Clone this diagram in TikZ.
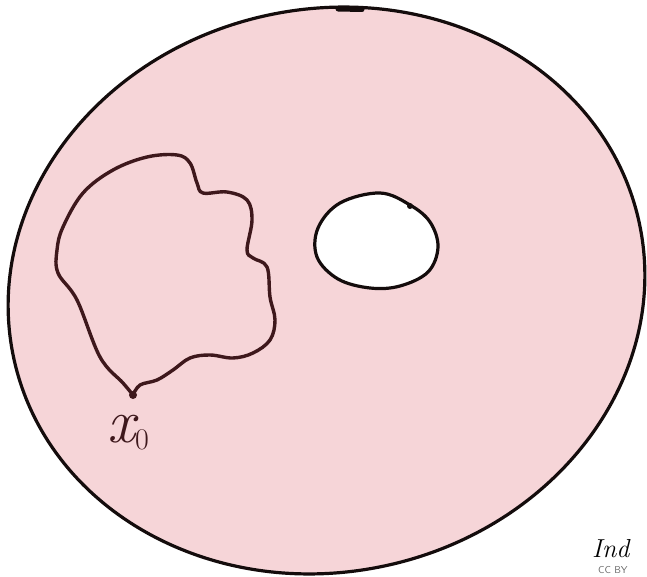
\documentclass[tikz,border=0pt]{standalone}
\usepackage{tikz}
\usetikzlibrary{positioning}
\definecolor{SurfacePink}{RGB}{246, 213, 216}
\definecolor{InkBrown}{RGB}{62, 24, 28}
\definecolor{InkBlack}{RGB}{20, 12, 12}

\begin{document}
\begin{tikzpicture}[x=1pt, y=-1pt,
    rim/.style={draw=InkBlack, line width=3.2pt, line join=round},
    loopline/.style={draw=InkBrown, line width=3.4pt, line cap=round, line join=round},
    label/.style={text=InkBrown, inner sep=0pt}
]
\useasboundingbox (0,0) rectangle (647,577);

% the surface
\filldraw[rim, fill=SurfacePink, rotate around={12.4:(326.5,290.5)}]
    (326.5,290.5) ellipse [x radius=320, y radius=281.5];
\draw[line width=5pt, InkBlack, line cap=round] (338,9) -- (362,9.5);

% the hole
\filldraw[rim, fill=white] plot[smooth cycle, tension=0.6] coordinates {
    (380,193) (410,205) (430,222) (438,247) (428,272) (400,286) (370,288)
    (338,279) (317,257) (318,228) (340,203)};
\fill[InkBlack] (410,206) circle (3);

% base point and loop
\coordinate (x0) at (133,395);
\draw[loopline] plot[smooth, tension=0.6] coordinates {
    (x0) (123,383) (100,357) (77,300) (58,273) (57,250) (63,227) (83,193)
    (113,170) (147,157) (177,155) (190,163) (197,183) (203,193) (227,192)
    (247,200) (252,220) (247,250) (253,258) (267,267) (270,297) (275,320)
    (270,340) (253,353) (233,358) (210,355) (190,358) (173,370) (157,380)
    (140,385) (x0)};
\fill[InkBrown] (x0) circle (4);
\node[label, below=20pt of x0, xshift=-5pt] (x0label)
    {\fontsize{62}{62}\selectfont\itshape x\upshape\raisebox{-7pt}{\fontsize{30}{30}\selectfont 0}};

% signature
\node[anchor=base west, inner sep=0pt, font=\fontsize{26}{26}\selectfont\itshape] (sig) at (592,557) {Ind};
\node[anchor=south west, inner sep=0pt, text=black!60, font=\sffamily\fontsize{10}{10}\selectfont] (lic) at (598,574) {CC BY};
\end{tikzpicture}
\end{document}
